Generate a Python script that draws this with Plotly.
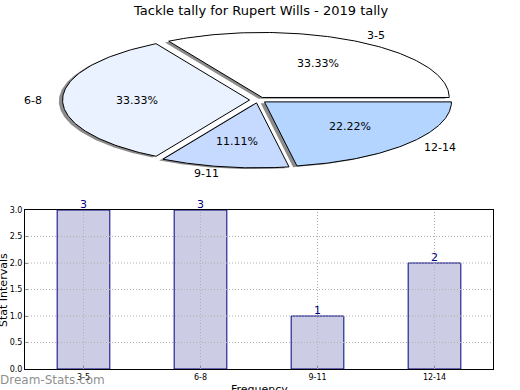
import numpy as np
import plotly.graph_objects as go

# ---- data ----
categories = ["3-5", "6-8", "9-11", "12-14"]
counts = [3, 3, 1, 2]
pie_colors = ["#ffffff", "#ebf2ff", "#c6d9ff", "#b3d5ff"]
y_ticks = [0.0, 0.5, 1.0, 1.5, 2.0, 2.5, 3.0]
y_tick_labels = ["0.0", "0.5", "1.0", "1.5", "2.0", "2.5", "3.0"]
title_text = "Tackle tally for Rupert Wills - 2019 tally"

W, H = 520, 390
FONT = "DejaVu Sans"

fig = go.Figure()

# ---- pie (elliptical, drawn on its own axes) ----
explode = 0.045
total = float(sum(counts))
fracs = [c / total for c in counts]
start = 0.0
wedges = []
for cat, f, col in zip(categories, fracs, pie_colors):
    t1, t2 = start, start + f * 360.0
    mid = np.deg2rad((t1 + t2) / 2)
    cx, cy = explode * np.cos(mid), explode * np.sin(mid)
    th = np.deg2rad(np.linspace(t1, t2, 120))
    xs = np.concatenate([[cx], cx + np.cos(th), [cx]])
    ys = np.concatenate([[cy], cy + np.sin(th), [cy]])
    wedges.append((cat, f, col, xs, ys, cx, cy, mid))
    start = t2

# shadows
for cat, f, col, xs, ys, cx, cy, mid in wedges:
    fig.add_trace(go.Scatter(x=xs - 0.02, y=ys - 0.02, mode="lines", fill="toself",
                             fillcolor="rgba(0,0,0,0.45)", line=dict(width=0),
                             hoverinfo="skip", showlegend=False, xaxis="x", yaxis="y"))
for cat, f, col, xs, ys, cx, cy, mid in wedges:
    fig.add_trace(go.Scatter(x=xs, y=ys, mode="lines", fill="toself",
                             fillcolor=col, line=dict(color="black", width=1),
                             hoverinfo="skip", showlegend=False, xaxis="x", yaxis="y"))

for cat, f, col, xs, ys, cx, cy, mid in wedges:
    lx, ly = cx + 1.1 * np.cos(mid), cy + 1.1 * np.sin(mid)
    fig.add_annotation(x=lx, y=ly, xref="x", yref="y", text=cat, showarrow=False,
                       xanchor="left" if lx > 0 else "right", yanchor="middle",
                       font=dict(family=FONT, size=11, color="black"))
    px_, py_ = cx + 0.6 * np.cos(mid), cy + 0.6 * np.sin(mid)
    fig.add_annotation(x=px_, y=py_, xref="x", yref="y", text=f"{f*100:.2f}%",
                       showarrow=False, xanchor="center", yanchor="middle",
                       font=dict(family=FONT, size=11, color="black"))

# pixel geometry of pie: center (258,100), Rx=187, Ry=65, panel pixel 0..190
pcx, pcy, rx, ry = 258.0, 100.0, 187.0, 65.0
ptop, pbot = 0.0, 190.0

# ---- bar chart ----
xpos = list(range(len(categories)))
fig.add_trace(go.Bar(x=xpos, y=counts, width=0.45,
                     marker=dict(color="#ccccE5", line=dict(color="#000080", width=1)),
                     hoverinfo="skip", showlegend=False,
                     xaxis="x2", yaxis="y2"))
for xi, c in zip(xpos, counts):
    fig.add_annotation(x=xi, y=c, xref="x2", yref="y2", text=str(c), showarrow=False,
                       xanchor="center", yanchor="bottom", yshift=-3,
                       font=dict(family=FONT, size=11, color="#000080"))

# grid above bars (matplotlib classic style)
for i in xpos:
    fig.add_shape(type="line", xref="x2", yref="y2", x0=i, x1=i, y0=0, y1=y_ticks[-1],
                  line=dict(color="#b0b0b0", width=1, dash="1px,2px"), layer="above")
for v in y_ticks[1:-1]:
    fig.add_shape(type="line", xref="x2", yref="y2", x0=-0.5, x1=len(categories) - 0.5,
                  y0=v, y1=v, line=dict(color="#b0b0b0", width=1, dash="1px,2px"), layer="above")

bl, br, bt, bb = 25.0, 493.0, 210.0, 369.0

fig.update_layout(
    width=W, height=H, margin=dict(l=0, r=0, t=0, b=0, pad=0), autosize=False,
    paper_bgcolor="white", plot_bgcolor="white",
    xaxis=dict(domain=[0, 1], range=[-pcx / rx, (W - pcx) / rx], visible=False,
               fixedrange=True, automargin=False),
    yaxis=dict(domain=[1 - pbot / H, 1 - ptop / H],
               range=[-(pbot - pcy) / ry, (pcy - ptop) / ry], visible=False,
               fixedrange=True, automargin=False),
    xaxis2=dict(domain=[bl / W, br / W], range=[-0.5, len(categories) - 0.5],
                anchor="y2", tickvals=xpos, ticktext=categories,
                tickfont=dict(family=FONT, size=8, color="black"), automargin=False,
                showgrid=False, zeroline=False, showline=True, linecolor="black",
                linewidth=1, mirror=True, ticks="inside", ticklen=3, tickcolor="#888",
                fixedrange=True),
    yaxis2=dict(domain=[1 - bb / H, 1 - bt / H], range=[0, 3.0], anchor="x2",
                tickvals=y_ticks, ticktext=y_tick_labels, automargin=False,
                tickfont=dict(family=FONT, size=8, color="black"),
                showgrid=False, zeroline=False, showline=True, linecolor="black",
                linewidth=1, mirror=True, ticks="inside", ticklen=3, tickcolor="#888",
                fixedrange=True),
)

# title and axis titles
fig.add_annotation(x=0.5, y=1 - 10 / H, xref="paper", yref="paper", text=title_text,
                   showarrow=False, xanchor="center", yanchor="middle",
                   font=dict(family=FONT, size=13, color="black"))
fig.add_annotation(x=3 / W, y=1 - 290 / H, xref="paper", yref="paper", text="Stat Intervals",
                   textangle=-90, showarrow=False, xanchor="center", yanchor="middle",
                   font=dict(family=FONT, size=11, color="black"))
fig.add_annotation(x=259 / W, y=1 - 389 / H, xref="paper", yref="paper", text="Frequency",
                   showarrow=False, xanchor="center", yanchor="middle",
                   font=dict(family=FONT, size=11, color="black"))
fig.add_annotation(x=0, y=1 - 380 / H, xref="paper", yref="paper", text="Dream-Stats.com",
                   showarrow=False, xanchor="left", yanchor="middle", xshift=-2,
                   font=dict(family=FONT, size=12, color="rgba(120,120,120,0.85)"))

fig.write_html("out.html", config={"displayModeBar": False},
               post_script="document.body.style.margin='0';document.body.style.overflow='hidden';")
